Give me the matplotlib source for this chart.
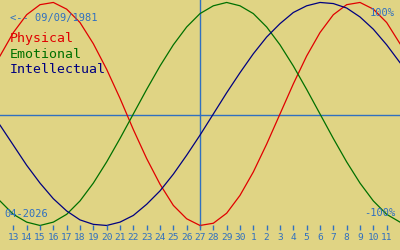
import matplotlib
matplotlib.use('Agg')
import matplotlib.pyplot as plt
import numpy as np

# days around 27-04-2026, offset from today
offsets = np.arange(-15, 16)
day_labels = ['13', '14', '15', '16', '17', '18', '19', '20', '21', '22', '23', '24',
              '25', '26', '27', '28', '29', '30', '1', '2', '3', '4', '5', '6', '7',
              '8', '9', '10', '11']
label_offsets = np.arange(-14, 15)

physical = [0.52, 0.73, 0.89, 0.98, 1.00, 0.94, 0.82, 0.63, 0.40, 0.14, -0.14,
            -0.40, -0.63, -0.82, -0.94, -1.00, -0.98, -0.89, -0.73, -0.52, -0.27,
            0.00, 0.27, 0.52, 0.73, 0.89, 0.98, 1.00, 0.94, 0.82, 0.63]
emotional = [-0.78, -0.90, -0.97, -1.00, -0.97, -0.90, -0.78, -0.62, -0.43, -0.22,
             0.00, 0.22, 0.43, 0.62, 0.78, 0.90, 0.97, 1.00, 0.97, 0.90, 0.78, 0.62,
             0.43, 0.22, 0.00, -0.22, -0.43, -0.62, -0.78, -0.90, -0.97]
intellectual = [-0.10, -0.28, -0.46, -0.62, -0.76, -0.87, -0.95, -0.99, -1.00, -0.97,
                -0.91, -0.81, -0.69, -0.54, -0.37, -0.19, 0.00, 0.19, 0.37, 0.54,
                0.69, 0.81, 0.91, 0.97, 1.00, 0.99, 0.95, 0.87, 0.76, 0.62, 0.46]

bg = '#e0d484'
txt = '#3070c0'
mono = 'DejaVu Sans Mono'

fig = plt.figure(figsize=(4, 2.5), dpi=100, facecolor=bg)
ax = fig.add_axes([0, 0, 1, 1])
ax.set_facecolor(bg)
ax.set_xlim(-15, 15)
ax.set_ylim(-1.22, 1.022)
ax.axis('off')

ax.axhline(-0.012, color=txt, lw=1.0)
ax.vlines(0, -1.01, 1.1, color=txt, lw=1.0)

ax.plot(offsets, physical, color='#e00000', lw=0.9)
ax.plot(offsets, emotional, color='#007000', lw=0.9)
ax.plot(offsets, intellectual, color='#000080', lw=0.9)

# day ticks along the bottom
ax.vlines(label_offsets, -1.045, -1.0, color=txt, lw=1.0)
for x, lab in zip(label_offsets, day_labels):
    ax.text(x, -1.107, lab, color=txt, fontsize=6.8, family=mono,
            ha='center', va='center')

fig.text(10 / 400, 1 - 21 / 250, '<-- 09/09/1981', color=txt, fontsize=7.5,
         family=mono, va='baseline')
fig.text(10 / 400, 1 - 42 / 250, 'Physical', color='#e00000', fontsize=9.5,
         family=mono, va='baseline')
fig.text(10 / 400, 1 - 57.5 / 250, 'Emotional', color='#007000', fontsize=9.5,
         family=mono, va='baseline')
fig.text(10 / 400, 1 - 73 / 250, 'Intellectual', color='#000080', fontsize=9.5,
         family=mono, va='baseline')
fig.text(395 / 400, 1 - 16 / 250, '100%', color=txt, fontsize=7.5,
         family=mono, ha='right', va='baseline')
fig.text(395 / 400, 1 - 216 / 250, '-100%', color=txt, fontsize=7.5,
         family=mono, ha='right', va='baseline')
fig.text(4 / 400, 1 - 217 / 250, '04-2026', color=txt, fontsize=7.5,
         family=mono, va='baseline')

fig.savefig('out.png', dpi=100, facecolor=bg)
